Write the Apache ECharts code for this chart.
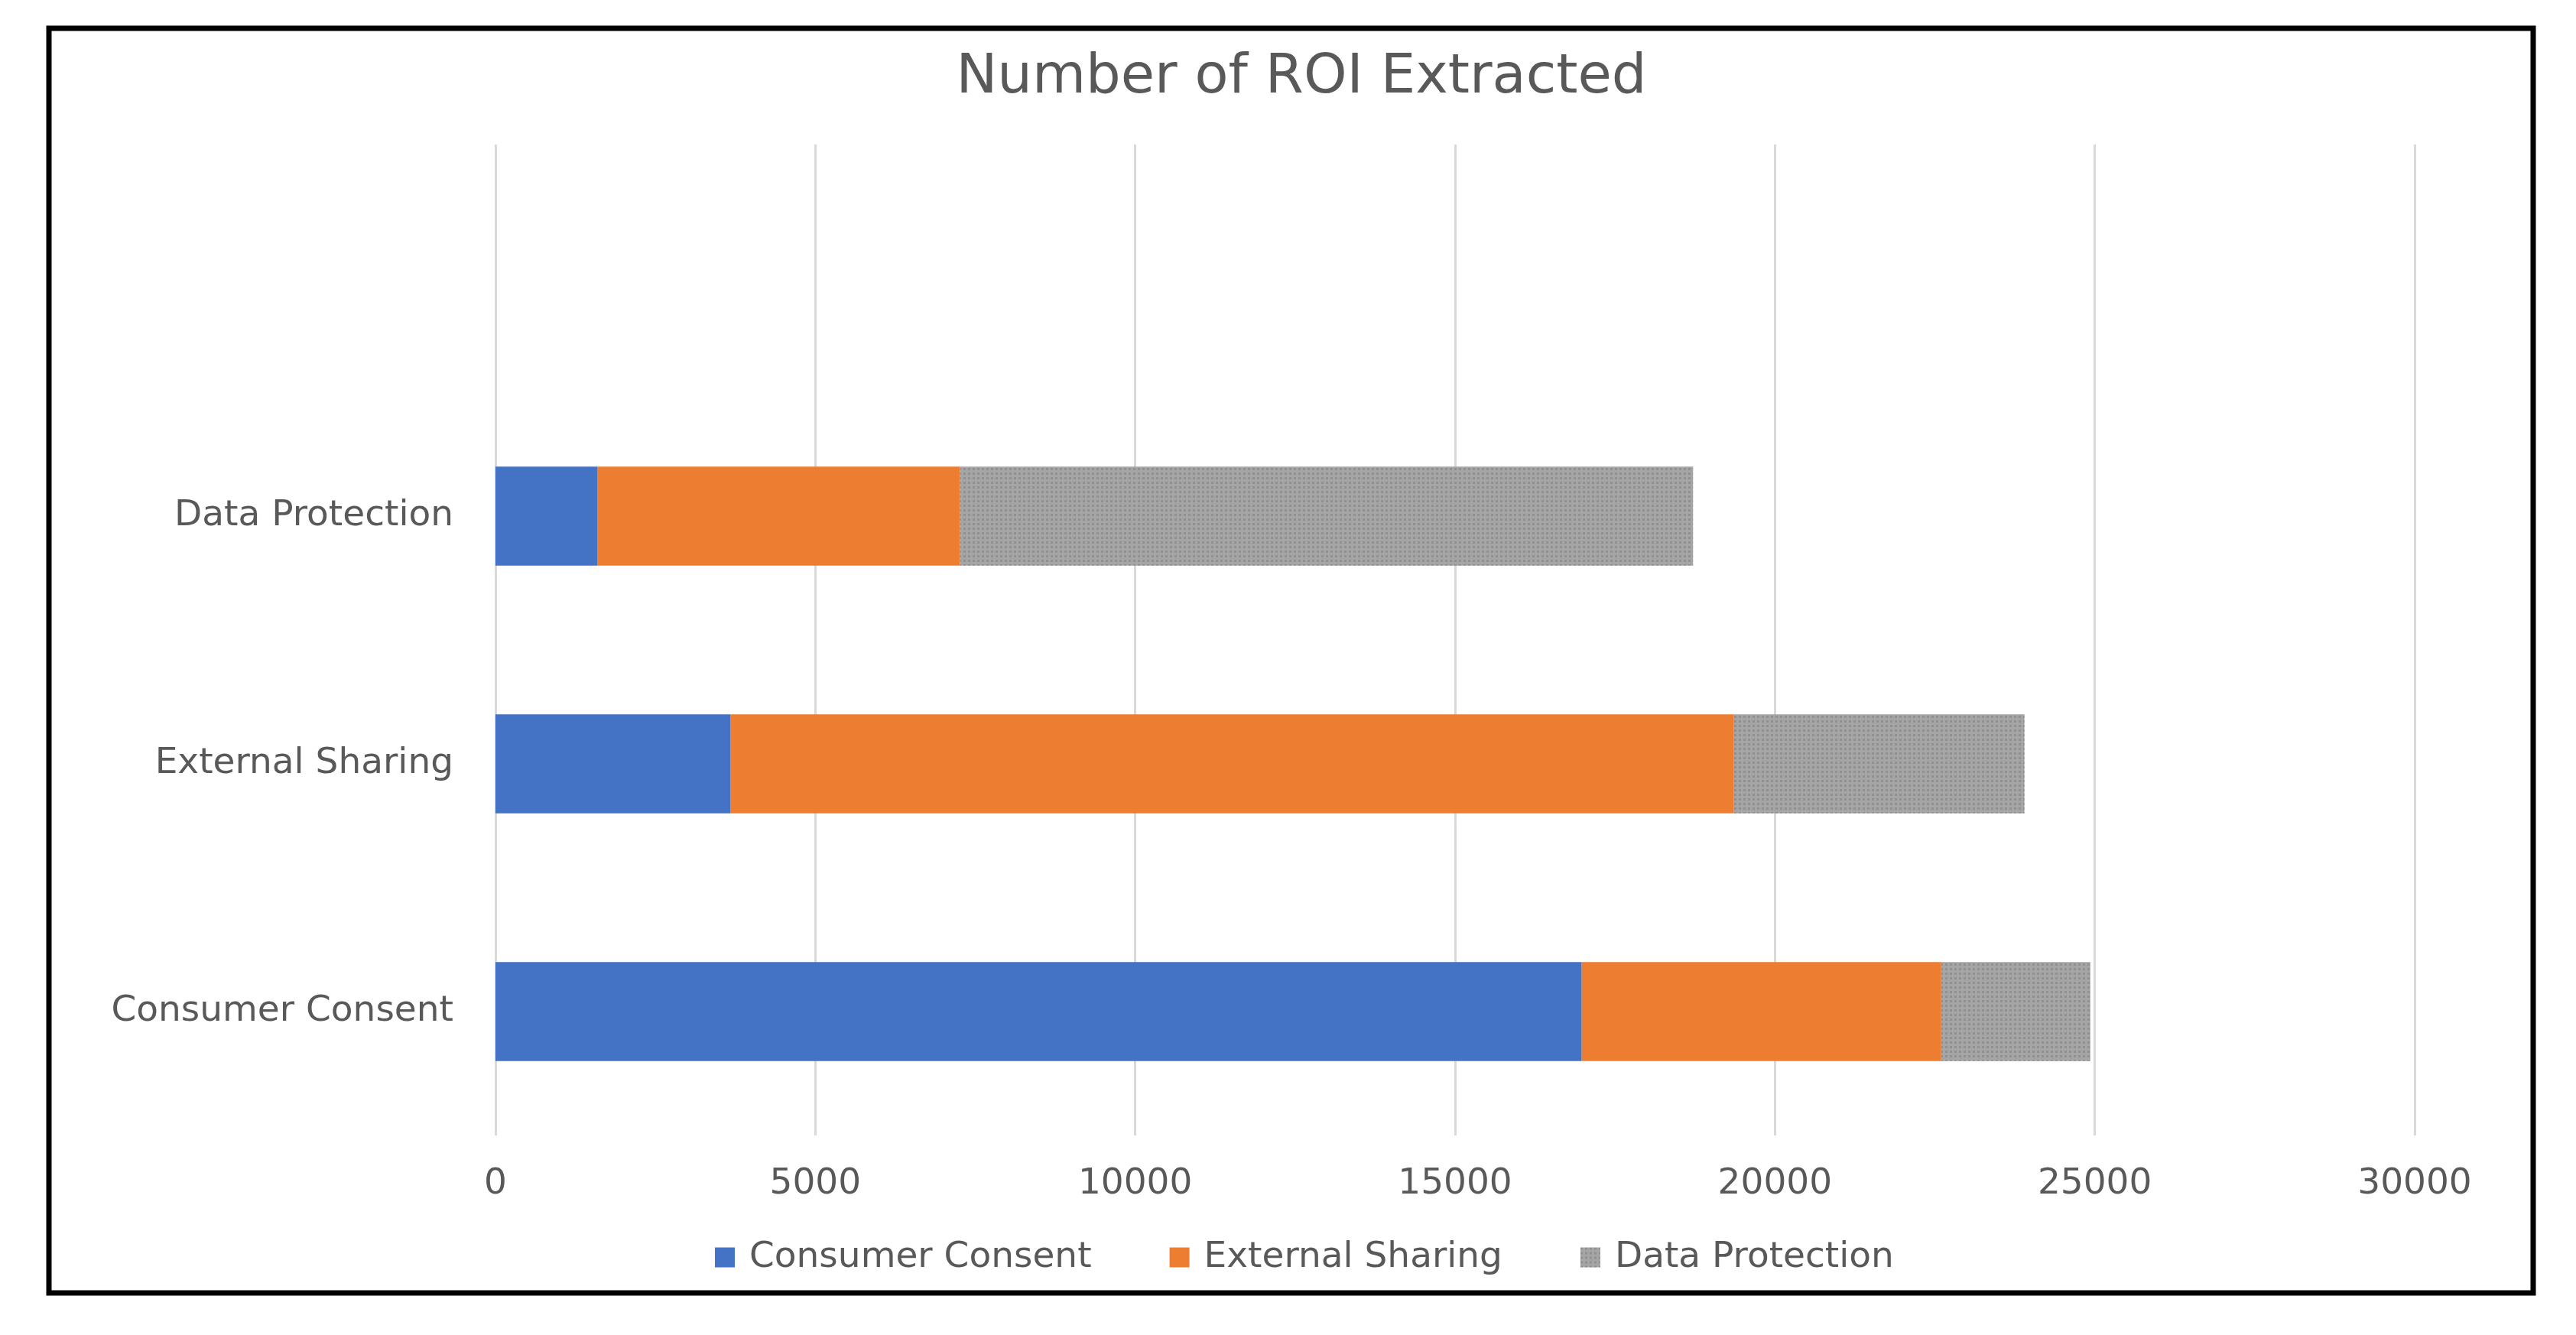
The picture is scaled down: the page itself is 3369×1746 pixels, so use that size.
<!DOCTYPE html>
<html>
<head>
<meta charset="utf-8">
<script src="https://cdn.jsdelivr.net/npm/echarts@6/dist/echarts.min.js"></script>
<style>
html,body{margin:0;padding:0;background:#fff;}
#chart{width:3369px;height:1746px;}
</style>
</head>
<body>
<div id="chart"></div>
<script>
const categories = ['Consumer Consent', 'External Sharing', 'Data Protection', ''];
const seriesNames = ['Consumer Consent', 'External Sharing', 'Data Protection'];
const consumerConsent = [16980, 3670, 1590];
const externalSharing = [5620, 15690, 5670];
const dataProtection = [2330, 4540, 11460];
const xTicks = [0, 5000, 10000, 15000, 20000, 25000, 30000];

const FONT = 'DejaVu Sans';
const TXT = '#595959';
const chart = echarts.init(document.getElementById('chart'), null, {renderer: 'canvas'});
const colors = ['#4472C4', '#ED7D31', '#A5A5A5'];
const values = [consumerConsent, externalSharing, dataProtection];

const option = {
  animation: false,
  backgroundColor: '#ffffff',
  title: {
    text: 'Number of ROI Extracted',
    left: 1697, top: 61, textAlign: 'center',
    textStyle: {fontFamily: FONT, fontSize: 72, fontWeight: 'normal', color: TXT}
  },
  legend: {
    data: seriesNames,
    left: 930, top: 1616,
    itemWidth: 26, itemHeight: 26, itemGap: 102,
    icon: 'rect',
    textStyle: {fontFamily: FONT, fontSize: 47, color: TXT, padding: [0, 0, 0, 14]}
  },
  grid: {left: 648, right: 211, top: 189, bottom: 261, containLabel: false},
  xAxis: {
    type: 'value',
    min: xTicks[0], max: xTicks[xTicks.length - 1], interval: xTicks[1] - xTicks[0],
    axisLine: {show: false}, axisTick: {show: false},
    axisLabel: {fontFamily: FONT, fontSize: 47, color: TXT, margin: 40, formatter: v => String(v)},
    splitLine: {show: true, lineStyle: {color: '#d9d9d9', width: 3}}
  },
  yAxis: {
    type: 'category',
    data: categories,
    axisLine: {show: false}, axisTick: {show: false},
    axisLabel: {fontFamily: FONT, fontSize: 47, color: TXT, margin: 55}
  },
  series: seriesNames.map((n, i) => ({
    name: n,
    type: 'bar',
    stack: 'total',
    barCategoryGap: '60%',
    data: values[i],
    itemStyle: Object.assign({color: colors[i]}, i === 2 ? {
      decal: {symbol: 'rect', symbolSize: 1, dashArrayX: [3, 3], dashArrayY: [3, 3], color: 'rgba(120,120,120,0.45)', rotation: 0}
    } : {})
  })),
  graphic: [{
    type: 'rect', silent: true, z: 100,
    shape: {x: 64, y: 37, width: 3249, height: 1654},
    style: {fill: 'none', stroke: '#000', lineWidth: 7}
  }]
};
chart.setOption(option);
</script>
</body>
</html>
